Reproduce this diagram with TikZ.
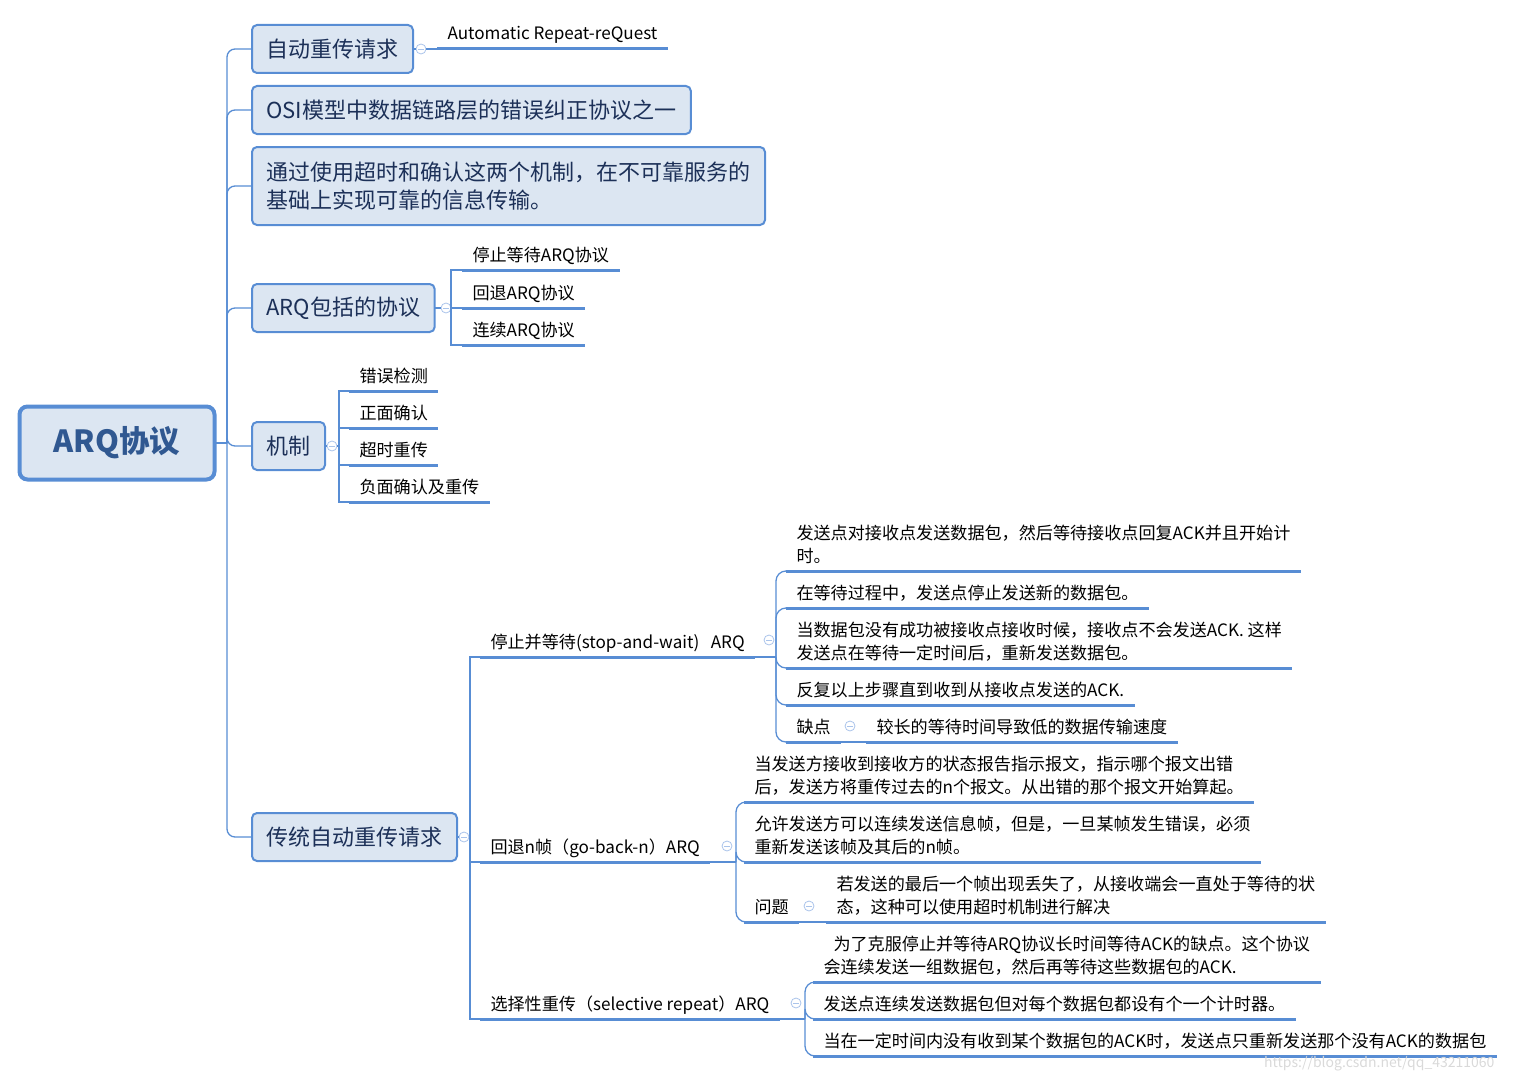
\documentclass[tikz,border=0pt]{standalone}
\usepackage{fontspec}
\setmainfont{Noto Sans CJK SC}
\definecolor{lineblue}{RGB}{88,141,212}
\definecolor{boxfill}{RGB}{220,230,242}
\definecolor{boxtext}{RGB}{28,48,88}
\definecolor{roottext}{RGB}{48,88,145}
\definecolor{btn}{RGB}{170,196,235}
\tikzset{
  lc/.style={draw=lineblue, line width=1.3pt},
  uline/.style={draw=lineblue, line width=3pt},
  box/.style={draw=lineblue, line width=2pt, fill=boxfill, rounded corners=5pt,
    text=boxtext, font=\fontsize{22}{28}\selectfont, inner xsep=14.5pt,
    minimum height=48pt, anchor=west, align=left, outer sep=0pt},
  rootbox/.style={draw=lineblue, line width=4pt, fill=boxfill, rounded corners=8pt,
    text=roottext, font=\bfseries\fontsize{30.5}{36}\selectfont,
    minimum width=195pt, minimum height=73pt, outer sep=0pt},
  leaf/.style={font=\fontsize{17.1}{23}\selectfont, text=black, inner xsep=10.5pt,
    inner ysep=3pt, text depth=6pt, anchor=south west, align=left, outer sep=0pt,
    append after command={(\tikzlastnode.south west) edge[uline] (\tikzlastnode.south east)}},
  cbtn/.style={circle, draw=btn, fill=white, minimum size=10pt, inner sep=0pt,
    line width=0.8pt,
    path picture={\draw[btn, line width=0.8pt]
      ([xshift=-2.6pt]path picture bounding box.center) --
      ([xshift=2.6pt]path picture bounding box.center);}},
}
\begin{document}
\begin{tikzpicture}[x=1pt,y=-1pt]
\useasboundingbox (0,0) rectangle (1516,1073);

% root
\node[rootbox] (root) at (117,443) {ARQ协议};
\coordinate (trunk) at (227,443);

% level 1 boxes
\node[box] (b1) at (252,49) {自动重传请求};
\node[box] (b2) at (252,110) {OSI模型中数据链路层的错误纠正协议之一};
\node[box, minimum height=78pt] (b3) at (252,186) {通过使用超时和确认这两个机制，在不可靠服务的\\基础上实现可靠的信息传输。};
\node[box] (b4) at (252,308) {ARQ包括的协议};
\node[box] (b5) at (252,446) {机制};
\node[box] (b6) at (252,837) {传统自动重传请求};

\draw[lc] (root.east) -- (trunk);
\foreach \b in {b1,b2,b3,b4,b5,b6}
  \draw[lc, rounded corners=8pt] (trunk) |- (\b.west);

% branch 1
\node[cbtn] (c1) at (421,49) {};
\node[leaf] (auto) at (437,49) {Automatic\ Repeat-reQuest};
\draw[lc] (b1.east) -- (c1.west);
\draw[lc] (c1.east) -- (auto.south west);

% branch 4
\node[cbtn] (c2) at (446,308) {};
\coordinate (j2) at (451,308);
\node[leaf] (p1) at (462,270) {停止等待ARQ协议};
\node[leaf] (p2) at (462,308) {回退ARQ协议};
\node[leaf] (p3) at (462,345) {连续ARQ协议};
\draw[lc] (b4.east) -- (c2.west);
\draw[lc] (c2.east) -- (j2);
\foreach \n in {p1,p2,p3} \draw[lc] (j2) |- (\n.south west);

% branch 5
\node[cbtn] (c3) at (332,446) {};
\coordinate (j3) at (339,446);
\node[leaf] (m1) at (349,391) {错误检测};
\node[leaf] (m2) at (349,428) {正面确认};
\node[leaf] (m3) at (349,465) {超时重传};
\node[leaf] (m4) at (349,502) {负面确认及重传};
\draw[lc] (b5.east) -- (c3.west);
\draw[lc] (c3.east) -- (j3);
\foreach \n in {m1,m2,m3,m4} \draw[lc] (j3) |- (\n.south west);

% branch 6
\node[cbtn] (c4) at (464,837) {};
\coordinate (j4) at (470,837);
\node[leaf] (sw) at (480,657) {停止并等待(stop-and-wait)\ \ \ ARQ};
\node[leaf] (gb) at (480,862) {回退n帧（go-back-n）ARQ};
\node[leaf] (sr) at (480,1019) {选择性重传（selective repeat）ARQ};
\draw[lc] (b6.east) -- (c4.west);
\draw[lc] (c4.east) -- (j4);
\foreach \n in {sw,gb,sr} \draw[lc] (j4) |- (\n.south west);

% stop-and-wait children
\node[cbtn] (c5) at (769,640) {};
\coordinate (j5) at (776,657);
\node[leaf] (sw1) at (786,571) {发送点对接收点发送数据包，然后等待接收点回复ACK并且开始计\\时。};
\node[leaf] (sw2) at (786,608) {在等待过程中，发送点停止发送新的数据包。};
\node[leaf] (sw3) at (786,668) {当数据包没有成功被接收点接收时候，接收点不会发送ACK. 这样\\发送点在等待一定时间后，重新发送数据包。};
\node[leaf] (sw4) at (786,705) {反复以上步骤直到收到从接收点发送的ACK.};
\node[leaf] (sw5) at (786,742) {缺点};
\node[cbtn] (c8) at (850,726) {};
\node[leaf] (sw5a) at (866,742) {较长的等待时间导致低的数据传输速度};
\draw[lc] (sw.south east) -- (j5);
\foreach \n in {sw1,sw2,sw3,sw4,sw5} \draw[lc, rounded corners=10pt] (j5) |- (\n.south west);
\draw[lc] (sw5.south east) -- (sw5a.south west);

% go-back-n children
\node[cbtn] (c6) at (727,846) {};
\coordinate (j6) at (736,862);
\node[leaf] (gb1) at (744,802) {当发送方接收到接收方的状态报告指示报文，指示哪个报文出错\\后，发送方将重传过去的n个报文。从出错的那个报文开始算起。};
\node[leaf] (gb2) at (744,862) {允许发送方可以连续发送信息帧，但是，一旦某帧发生错误，必须\\重新发送该帧及其后的n帧。};
\node[leaf] (gb3) at (744,922) {问题};
\node[cbtn] (c9) at (809,906) {};
\node[leaf] (gb3a) at (826,922) {若发送的最后一个帧出现丢失了，从接收端会一直处于等待的状\\态，这种可以使用超时机制进行解决};
\draw[lc] (gb.south east) -- (j6);
\foreach \n in {gb1,gb2,gb3} \draw[lc, rounded corners=10pt] (j6) |- (\n.south west);
\draw[lc] (gb3.south east) -- (gb3a.south west);

% selective repeat children
\node[cbtn] (c7) at (796,1003) {};
\coordinate (j7) at (805,1019);
\node[leaf] (sr1) at (813,982) {\hspace*{10pt}为了克服停止并等待ARQ协议长时间等待ACK的缺点。这个协议\\会连续发送一组数据包，然后再等待这些数据包的ACK.};
\node[leaf] (sr2) at (813,1019) {发送点连续发送数据包但对每个数据包都设有个一个计时器。};
\node[leaf] (sr3) at (813,1056) {当在一定时间内没有收到某个数据包的ACK时，发送点只重新发送那个没有ACK的数据包};
\draw[lc] (sr.south east) -- (j7);
\foreach \n in {sr1,sr2,sr3} \draw[lc, rounded corners=10pt] (j7) |- (\n.south west);

% watermark
\node[font=\fontsize{14}{16}\selectfont, text=gray!30, anchor=west, inner sep=0pt] (wm) at (1264,1064) {https://blog.csdn.net/qq\_43211060};
\end{tikzpicture}
\end{document}
